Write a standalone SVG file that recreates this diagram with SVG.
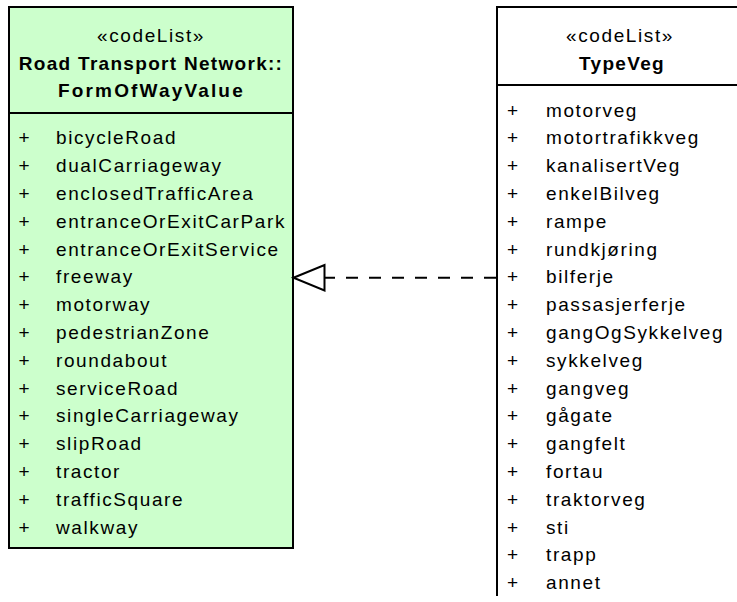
<svg xmlns="http://www.w3.org/2000/svg" width="737" height="602" viewBox="0 0 737 602">
  <style>
    .box { stroke: #000; stroke-width: 2; }
    .green { fill: #CCFFCC; }
    .white { fill: #FFFFFF; }
    .edge { fill: none; stroke: #000; stroke-width: 2; }
    text { font-family: "Liberation Sans", Arial, sans-serif; font-size: 19px; fill: #000; letter-spacing: 1.6px; }
    .stereo { text-anchor: middle; }
    .name { text-anchor: middle; font-weight: bold; letter-spacing: 1.3px; }
    .conn { fill: none; stroke: #000; stroke-width: 2; }
    .dash { stroke-dasharray: 12 11; }
  </style>

  <rect width="737" height="602" fill="#FFFFFF"/>

  <!-- Class: Road Transport Network::FormOfWayValue -->
  <g id="FormOfWayValue">
    <rect class="box green" x="9" y="7" width="284" height="541"/>
    <line class="edge" x1="9" y1="113" x2="293" y2="113"/>
    <text class="stereo" x="151" y="42">«codeList»</text>
    <text class="name" x="151" y="69.5">Road Transport Network::</text>
    <text class="name" x="151" y="97" textLength="186" lengthAdjust="spacing">FormOfWayValue</text>
    <g>
      <text x="18.5" y="144.3">+</text><text x="56" y="144.3">bicycleRoad</text>
      <text x="18.5" y="172.1">+</text><text x="56" y="172.1">dualCarriageway</text>
      <text x="18.5" y="199.9">+</text><text x="56" y="199.9">enclosedTrafficArea</text>
      <text x="18.5" y="227.7">+</text><text x="56" y="227.7">entranceOrExitCarPark</text>
      <text x="18.5" y="255.5">+</text><text x="56" y="255.5">entranceOrExitService</text>
      <text x="18.5" y="283.3">+</text><text x="56" y="283.3">freeway</text>
      <text x="18.5" y="311.1">+</text><text x="56" y="311.1">motorway</text>
      <text x="18.5" y="338.9">+</text><text x="56" y="338.9">pedestrianZone</text>
      <text x="18.5" y="366.7">+</text><text x="56" y="366.7">roundabout</text>
      <text x="18.5" y="394.5">+</text><text x="56" y="394.5">serviceRoad</text>
      <text x="18.5" y="422.3">+</text><text x="56" y="422.3">singleCarriageway</text>
      <text x="18.5" y="450.1">+</text><text x="56" y="450.1">slipRoad</text>
      <text x="18.5" y="477.9">+</text><text x="56" y="477.9">tractor</text>
      <text x="18.5" y="505.7">+</text><text x="56" y="505.7">trafficSquare</text>
      <text x="18.5" y="533.5">+</text><text x="56" y="533.5">walkway</text>
    </g>
  </g>

  <!-- Class: TypeVeg (continues past the right and bottom edges) -->
  <g id="TypeVeg">
    <rect class="white" x="497" y="7" width="260" height="600"/>
    <path class="edge" d="M497,596 V7 H760"/>
    <line class="edge" x1="497" y1="85" x2="760" y2="85"/>
    <text class="stereo" x="620" y="42">«codeList»</text>
    <text class="name" x="622" y="69.5">TypeVeg</text>
    <g>
      <text x="507" y="116.5">+</text><text x="546" y="116.5">motorveg</text>
      <text x="507" y="144.3">+</text><text x="546" y="144.3">motortrafikkveg</text>
      <text x="507" y="172.1">+</text><text x="546" y="172.1">kanalisertVeg</text>
      <text x="507" y="199.9">+</text><text x="546" y="199.9">enkelBilveg</text>
      <text x="507" y="227.7">+</text><text x="546" y="227.7">rampe</text>
      <text x="507" y="255.5">+</text><text x="546" y="255.5">rundkjøring</text>
      <text x="507" y="283.3">+</text><text x="546" y="283.3">bilferje</text>
      <text x="507" y="311.1">+</text><text x="546" y="311.1">passasjerferje</text>
      <text x="507" y="338.9">+</text><text x="546" y="338.9">gangOgSykkelveg</text>
      <text x="507" y="366.7">+</text><text x="546" y="366.7">sykkelveg</text>
      <text x="507" y="394.5">+</text><text x="546" y="394.5">gangveg</text>
      <text x="507" y="422.3">+</text><text x="546" y="422.3">gågate</text>
      <text x="507" y="450.1">+</text><text x="546" y="450.1">gangfelt</text>
      <text x="507" y="477.9">+</text><text x="546" y="477.9">fortau</text>
      <text x="507" y="505.7">+</text><text x="546" y="505.7">traktorveg</text>
      <text x="507" y="533.5">+</text><text x="546" y="533.5">sti</text>
      <text x="507" y="561.3">+</text><text x="546" y="561.3">trapp</text>
      <text x="507" y="589.1">+</text><text x="546" y="589.1">annet</text>
    </g>
  </g>

  <!-- Realization: TypeVeg to FormOfWayValue -->
  <g id="connectors">
    <line class="conn dash" x1="496" y1="277.7" x2="325" y2="277.7"/>
    <polygon class="conn" fill="#FFFFFF" points="293.5,277.7 324.5,265 324.5,290.5"/>
  </g>
</svg>
